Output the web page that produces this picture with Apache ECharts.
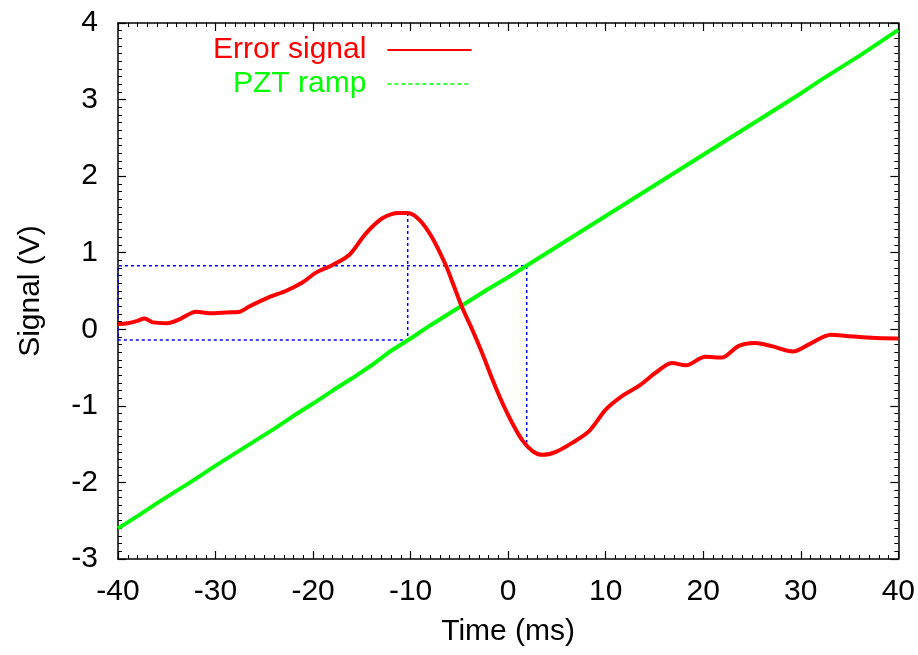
<!DOCTYPE html>
<html>
<head>
<meta charset="utf-8">
<script src="https://cdn.jsdelivr.net/npm/echarts@6/dist/echarts.min.js"></script>
<style>
  html, body { margin: 0; padding: 0; background: #fff; }
  #chart { width: 918px; height: 655px; }
</style>
</head>
<body>
<div id="chart"></div>
<script>
// error signal
var errTime = [-40, -39, -38, -37.3, -36.4, -35, -33.7, -32, -30.6, -28.9, -27.5, -26.5, -24.5, -22.8, -21.1,
    -19.7, -18, -16.3, -14.6, -12.9, -11.2, -10.3, -9.1, -7.8, -6.4, -5.7, -4.7, -3.7, -2.7, -1.6, -0.6,
    0.4, 1.4, 2.5, 3.5, 4.9, 6.6, 8.3, 10, 11.7, 13.4, 15.1, 16.8, 18.2, 20.2, 21.9, 23.6, 25.3, 27,
    29.2, 30.8, 33.1, 34.9, 37.2, 40];
var errSignal = [0.07, 0.08, 0.11, 0.14, 0.09, 0.08, 0.13, 0.23, 0.21, 0.22, 0.23, 0.30, 0.42, 0.50, 0.61,
    0.74, 0.84, 0.97, 1.25, 1.45, 1.52, 1.52, 1.43, 1.20, 0.84, 0.61, 0.28, 0.0, -0.30, -0.66, -0.96,
    -1.22, -1.44, -1.59, -1.64, -1.60, -1.48, -1.33, -1.05, -0.87, -0.74, -0.57, -0.44, -0.47, -0.36, -0.37, -0.22, -0.18, -0.22,
    -0.29, -0.20, -0.07, -0.09, -0.11, -0.12];

// PZT ramp, every 2 ms
var rampTime = [-40, -38, -36, -34, -32, -30, -28, -26, -24, -22, -20, -18, -16, -14, -12, -10, -8, -6, -4, -2,
    0, 2, 4, 6, 8, 10, 12, 14, 16, 18, 20, 22, 24, 26, 28, 30, 32, 34, 36, 38, 40];
var rampSignal = [-2.60, -2.44, -2.27, -2.11, -1.95, -1.78, -1.62, -1.46, -1.30, -1.13, -0.97, -0.80, -0.64, -0.47, -0.28, -0.12, 0.05, 0.21, 0.37, 0.53,
    0.68, 0.84, 1.00, 1.16, 1.32, 1.48, 1.64, 1.80, 1.96, 2.12, 2.28, 2.44, 2.60, 2.76, 2.92, 3.08, 3.25, 3.41, 3.57, 3.74, 3.91];

// blue dotted guide lines
var guideTime = [-10.3, -10.3, -40, -40, 1.9, 1.9];
var guideSignal = [1.52, -0.14, -0.14, 0.83, 0.83, -1.48];

function pairs(xs, ys) {
    var out = [];
    for (var i = 0; i < xs.length; i++) {
        out.push([xs[i], ys[i]]);
    }
    return out;
}

var FONT = 'Liberation Sans';
var chart = echarts.init(document.getElementById('chart'));

var axisLine = { show: true, onZero: false, lineStyle: { color: '#000', width: 1.5 } };
var tick = { show: true, inside: true, length: 8, lineStyle: { color: '#000', width: 1.2 } };
var minor = { show: true, splitNumber: 10, length: 4, lineStyle: { color: '#000', width: 1 } };

var option = {
    animation: false,
    backgroundColor: '#fff',
    grid: { left: 118, right: 18, top: 23, bottom: 96 },
    legend: {
        orient: 'vertical',
        left: 208,
        top: 28,
        align: 'right',
        itemWidth: 84,
        itemHeight: 14,
        itemGap: 0,
        itemStyle: { opacity: 0 },
        textStyle: { fontFamily: FONT, fontSize: 30, lineHeight: 34, padding: [0, 16, 0, 0] },
        data: [
            { name: 'Error signal', textStyle: { color: '#ff0000' } },
            { name: 'PZT ramp', textStyle: { color: '#00ff00' }, lineStyle: { type: [4, 3], width: 1.5 } }
        ]
    },
    xAxis: [{
        type: 'value', min: -40, max: 40, interval: 10,
        name: 'Time (ms)', nameLocation: 'middle', nameGap: 58,
        nameTextStyle: { fontFamily: FONT, fontSize: 30, color: '#000' },
        axisLine: axisLine, axisTick: tick, minorTick: minor,
        splitLine: { show: false },
        axisLabel: { fontFamily: FONT, fontSize: 30, color: '#000', margin: 18 }
    }, {
        type: 'value', min: -40, max: 40, interval: 10, position: 'top',
        axisLine: axisLine, axisTick: tick, minorTick: minor,
        splitLine: { show: false }, axisLabel: { show: false }
    }],
    yAxis: [{
        type: 'value', min: -3, max: 4, interval: 1,
        name: 'Signal (V)', nameLocation: 'middle', nameGap: 72,
        nameTextStyle: { fontFamily: FONT, fontSize: 30, color: '#000' },
        axisLine: axisLine, axisTick: tick, minorTick: minor,
        splitLine: { show: false },
        axisLabel: { fontFamily: FONT, fontSize: 30, color: '#000', margin: 20 }
    }, {
        type: 'value', min: -3, max: 4, interval: 1, position: 'right',
        axisLine: axisLine, axisTick: tick, minorTick: minor,
        splitLine: { show: false }, axisLabel: { show: false }
    }],
    series: [
        {
            name: 'guides',
            type: 'line',
            data: pairs(guideTime, guideSignal),
            symbol: 'none',
            lineStyle: { color: '#0000ff', width: 1.5, type: [3, 3] },
            z: 1
        },
        {
            name: 'Error signal',
            type: 'line',
            data: pairs(errTime, errSignal),
            symbol: 'none',
            smooth: 0.3,
            color: '#ff0000',
            lineStyle: { color: '#ff0000', width: 4 },
            z: 3
        },
        {
            name: 'PZT ramp',
            type: 'line',
            data: pairs(rampTime, rampSignal),
            symbol: 'none',
            color: '#00ff00',
            lineStyle: { color: '#00ff00', width: 4 },
            z: 2
        }
    ]
};

chart.setOption(option);
</script>
</body>
</html>
